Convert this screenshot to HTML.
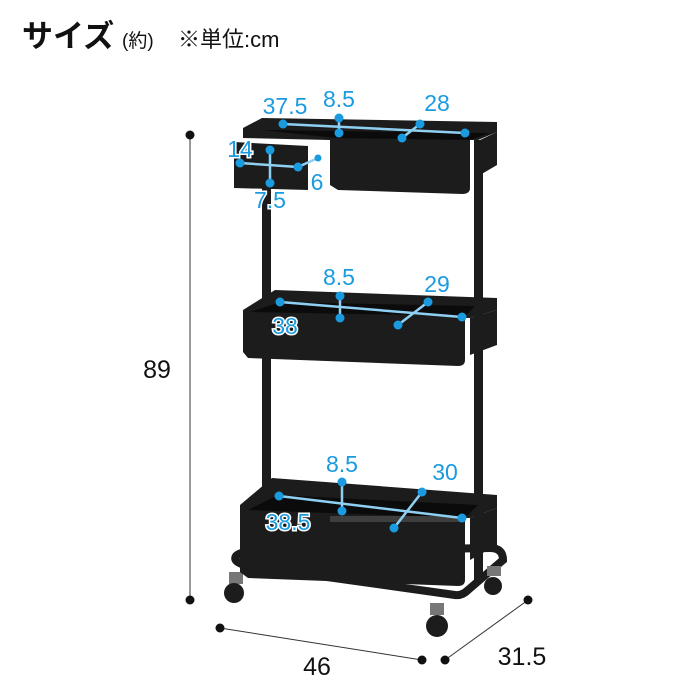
<!DOCTYPE html>
<html><head><meta charset="utf-8"><style>
html,body{margin:0;padding:0;background:#fff;width:700px;height:700px;overflow:hidden}
svg{display:block}
.b{font-family:"Liberation Sans","Noto Sans CJK JP",sans-serif;fill:#1a9be0;font-size:23px;text-anchor:middle;stroke:#fff;stroke-width:3px;paint-order:stroke}
.k{font-family:"Liberation Sans","Noto Sans CJK JP",sans-serif;fill:#111;font-size:25px;text-anchor:middle}
.bl{stroke:#8fd0f2;stroke-width:2.5;fill:none}
</style></head><body>
<svg width="700" height="700" viewBox="0 0 700 700" xmlns="http://www.w3.org/2000/svg">
<text x="22" y="47" font-family="'Liberation Sans','Noto Sans CJK JP',sans-serif" font-weight="bold" font-size="31" fill="#111">サイズ</text>
<text x="122" y="47" font-family="'Liberation Sans','Noto Sans CJK JP',sans-serif" font-size="19" fill="#111">(約)</text>
<text x="178" y="47" font-family="'Liberation Sans','Noto Sans CJK JP',sans-serif" font-size="22" fill="#111">※単位:cm</text>

<g stroke="#333" stroke-width="1">
<line x1="190" y1="135" x2="190" y2="600"/>
<line x1="220" y1="628" x2="422" y2="660"/>
<line x1="445" y1="660" x2="528" y2="600"/>
</g>
<g fill="#111">
<circle cx="190" cy="135" r="4.5"/><circle cx="190" cy="600" r="4.5"/>
<circle cx="220" cy="628" r="4.5"/><circle cx="422" cy="660" r="4.5"/>
<circle cx="445" cy="660" r="4.5"/><circle cx="528" cy="600" r="4.5"/>
</g>
<text class="k" x="157" y="378">89</text>
<text class="k" x="317" y="675">46</text>
<text class="k" x="522" y="665">31.5</text>

<g fill="#1c1c1c">
<rect x="262" y="185" width="9" height="365"/>
<rect x="474" y="140" width="9" height="440"/>
<path d="M250 552 L490 548 Q503 548 503 560 L468 590 Q462 596 455 595 L248 566 Q232 562 236 556 Q240 552 250 552Z" fill="none" stroke="#1c1c1c" stroke-width="8"/>
<rect x="229" y="572" width="14" height="12" fill="#777"/><circle cx="234" cy="593" r="10"/>
<rect x="430" y="603" width="14" height="12" fill="#777"/><circle cx="437" cy="626" r="11"/>
<rect x="487" y="566" width="14" height="10" fill="#777"/><circle cx="493" cy="586" r="9"/>
<path d="M243 128 L262 118 L497 122 L497 132 L478 140 L470 140 L470 188 Q470 194 462 194 L338 190 L330 185 L330 140 L243 138Z"/>
<path d="M480 140 L497 132 L497 165 L480 175Z"/>
<path d="M234 142 L308 146 L308 190 L234 188Z"/>
<path d="M243 310 L275 290 L497 298 L497 310 L470 318 L465 318 L465 360 Q465 366 458 366 L248 358 L243 352Z"/>
<path d="M470 318 L497 310 L497 345 L470 355Z"/>
<path d="M240 505 L272 478 L497 495 L497 508 L470 518 L465 518 L465 580 Q465 586 458 586 L248 578 L240 572Z"/>
<path d="M470 518 L497 508 L497 545 L470 560Z"/>
</g>
<g fill="#000">
<path d="M262 130 L490 133 L470 140 L335 138 Z" opacity=".6"/>
<path d="M280 302 L475 306 L465 316 L250 312Z" opacity=".6"/>
<path d="M278 495 L478 505 L465 518 L248 510Z" opacity=".6"/>
</g>
<g fill="#555"><rect x="330" y="516" width="130" height="6" opacity=".6"/></g>

<g class="bl">
<line x1="283" y1="124" x2="465" y2="133"/><line x1="339" y1="118" x2="339" y2="133"/><line x1="402" y1="138" x2="420" y2="124"/>
<line x1="240" y1="163" x2="298" y2="167"/><line x1="270" y1="150" x2="270" y2="183"/><line x1="298" y1="167" x2="318" y2="158"/>
<line x1="280" y1="302" x2="462" y2="317"/><line x1="340" y1="296" x2="340" y2="318"/><line x1="398" y1="325" x2="428" y2="302"/>
<line x1="279" y1="496" x2="462" y2="518"/><line x1="342" y1="482" x2="342" y2="511"/><line x1="394" y1="528" x2="422" y2="492"/>
</g>
<g fill="#1a9be0">
<circle cx="283" cy="124" r="4.5"/><circle cx="339" cy="118" r="4.5"/><circle cx="339" cy="133" r="4.5"/><circle cx="420" cy="124" r="4.5"/><circle cx="402" cy="138" r="4.5"/><circle cx="465" cy="133" r="4.5"/>
<circle cx="240" cy="163" r="4.5"/><circle cx="270" cy="150" r="4.5"/><circle cx="270" cy="183" r="4.5"/><circle cx="298" cy="167" r="4.5"/><circle cx="318" cy="158" r="3.5"/>
<circle cx="280" cy="302" r="4.5"/><circle cx="340" cy="296" r="4.5"/><circle cx="340" cy="318" r="4.5"/><circle cx="398" cy="325" r="4.5"/><circle cx="428" cy="302" r="4.5"/><circle cx="462" cy="317" r="4.5"/>
<circle cx="279" cy="496" r="4.5"/><circle cx="342" cy="482" r="4.5"/><circle cx="342" cy="511" r="4.5"/><circle cx="394" cy="528" r="4.5"/><circle cx="422" cy="492" r="4.5"/><circle cx="462" cy="518" r="4.5"/>
</g>
<text class="b" x="285" y="114">37.5</text>
<text class="b" x="339" y="107">8.5</text>
<text class="b" x="437" y="111">28</text>
<text class="b" x="240" y="157">14</text>
<text class="b" x="317" y="190">6</text>
<text class="b" x="270" y="208">7.5</text>
<text class="b" x="339" y="285">8.5</text>
<text class="b" x="437" y="292">29</text>
<text class="b" x="285" y="334">38</text>
<text class="b" x="342" y="472">8.5</text>
<text class="b" x="445" y="480">30</text>
<text class="b" x="288" y="530">38.5</text>
</svg>
</body></html>
